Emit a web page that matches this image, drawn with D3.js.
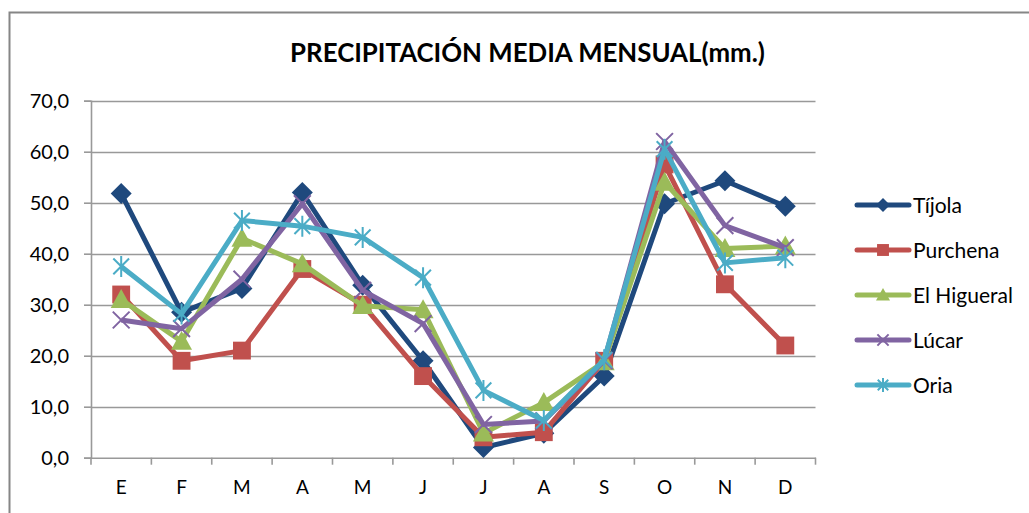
<!DOCTYPE html>
<html><head><meta charset="utf-8">
<script src="https://cdn.jsdelivr.net/npm/d3@7"></script>
<style>body{margin:0;background:#fff}svg{display:block}text{font-family:Lato,"Open Sans",sans-serif}</style>
</head><body><svg id="c" width="1029" height="513"></svg>
<script>
const months = ["E","F","M","A","M","J","J","A","S","O","N","D"];
const yTicks = [0,10,20,30,40,50,60,70];
const seriesNames = ["Tíjola","Purchena","El Higueral","Lúcar","Oria"];
const tijola    = [51.8,28.5,33.2,52.0,33.8,19.0,2.0,4.8,16.0,49.8,54.3,49.3];
const purchena  = [32.0,19.0,21.0,37.0,30.0,16.0,4.0,5.0,19.0,57.5,34.0,22.0];
const higueral  = [31.0,22.8,43.0,38.0,29.8,29.0,4.8,10.8,18.8,54.0,41.0,41.5];
const lucar     = [27.0,25.3,35.0,49.8,32.8,26.3,6.5,7.2,19.0,62.0,45.5,41.2];
const oria      = [37.5,28.2,46.5,45.4,43.2,35.3,13.2,7.3,19.2,60.5,38.2,39.2];
const allValues = [tijola,purchena,higueral,lucar,oria];
const colors = ["#1F497D","#C0504D","#9BBB59","#8064A2","#4BACC6"];
const markers = ["diamond","square","triangle","x","star"];

const svg = d3.select("#c");
// chart border
svg.append("rect").attr("x",9.5).attr("y",12.5).attr("width",1040).attr("height",520)
  .attr("fill","#fff").attr("stroke","#868686").attr("stroke-width",2);

const L=91, R=815.5, T=100.7, B=457.7;
const x = d3.scaleBand().domain(d3.range(12)).range([L,R]);
const y = d3.scaleLinear().domain([0,70]).range([B,T]);

// gridlines
svg.append("g").selectAll("line").data(yTicks.filter(d=>d>0)).join("line")
  .attr("x1",L).attr("x2",R).attr("y1",d=>Math.round(y(d))+0.5).attr("y2",d=>Math.round(y(d))+0.5)
  .attr("stroke","#999").attr("stroke-width",1.6);

// y axis
const ya = svg.append("g").attr("transform",`translate(${L},0)`)
  .call(d3.axisLeft(y).tickValues(yTicks).tickSize(7).tickPadding(15).tickFormat(d=>d.toFixed(1).replace(".",",")));
ya.select(".domain").attr("stroke","#999").attr("stroke-width",1.6);
ya.selectAll(".tick line").attr("stroke","#999").attr("stroke-width",1.6);
ya.selectAll("text").attr("font-size",20).attr("fill","#000").style("font-family","Lato,sans-serif");

// x axis
const xa = svg.append("g").attr("transform",`translate(0,${B})`)
  .call(d3.axisBottom(x).tickFormat(i=>months[i]).tickSize(0).tickPadding(23));
xa.select(".domain").attr("stroke","#999").attr("stroke-width",1.6);
xa.selectAll("text").attr("font-size",19).attr("fill","#000").style("font-family","Lato,sans-serif");
// category boundary ticks
svg.append("g").selectAll("line").data(d3.range(13)).join("line")
  .attr("x1",i=>L+i*x.step()).attr("x2",i=>L+i*x.step()).attr("y1",B).attr("y2",B+7)
  .attr("stroke","#999").attr("stroke-width",1.6);

function drawMarker(g, type, cx, cy, color, s){
  if(type==="diamond"){
    g.append("path").attr("d",`M${cx},${cy-s}L${cx+s},${cy}L${cx},${cy+s}L${cx-s},${cy}Z`).attr("fill",color);
  } else if(type==="square"){
    g.append("rect").attr("x",cx-s*0.85).attr("y",cy-s*0.85).attr("width",s*1.7).attr("height",s*1.7).attr("fill",color);
  } else if(type==="triangle"){
    g.append("path").attr("d",`M${cx},${cy-s}L${cx+s},${cy+s*0.8}L${cx-s},${cy+s*0.8}Z`).attr("fill",color);
  } else if(type==="x"){
    const k=s*0.8;
    g.append("path").attr("d",`M${cx-k},${cy-k}L${cx+k},${cy+k}M${cx+k},${cy-k}L${cx-k},${cy+k}`)
      .attr("stroke",color).attr("stroke-width",2).attr("fill","none");
  } else {
    const k=s*0.75;
    g.append("path").attr("d",`M${cx-k},${cy-k}L${cx+k},${cy+k}M${cx+k},${cy-k}L${cx-k},${cy+k}M${cx},${cy-s}L${cx},${cy+s}`)
      .attr("stroke",color).attr("stroke-width",2).attr("fill","none");
  }
}

const line = d3.line().x((d,i)=>x(i)+x.bandwidth()/2).y(d=>y(d));
allValues.forEach((vals,si)=>{
  const g = svg.append("g");
  g.append("path").datum(vals).attr("d",line).attr("fill","none")
    .attr("stroke",colors[si]).attr("stroke-width",5).attr("stroke-linejoin","round");
  vals.forEach((v,i)=>drawMarker(g,markers[si],x(i)+x.bandwidth()/2,y(v),colors[si],10.5));
});

// legend
const lg = svg.append("g");
seriesNames.forEach((n,i)=>{
  const cy = 205 + i*45;
  lg.append("line").attr("x1",857).attr("x2",909).attr("y1",cy).attr("y2",cy)
    .attr("stroke",colors[i]).attr("stroke-width",5).attr("stroke-linecap","round");
  drawMarker(lg,markers[i],883,cy,colors[i],7);
  lg.append("text").attr("x",913).attr("y",cy).attr("dy","0.36em").attr("font-size",21).attr("fill","#000").text(n);
});

// title
const title = svg.append("text").attr("x",527.5).attr("y",62).attr("text-anchor","middle")
  .attr("font-size",22).attr("font-weight","bold").attr("fill","#000").text("PRECIPITACIÓN MEDIA MENSUAL(mm.)");
const w = title.node().getComputedTextLength();
title.attr("font-size",22*475/w);
</script></body></html>
